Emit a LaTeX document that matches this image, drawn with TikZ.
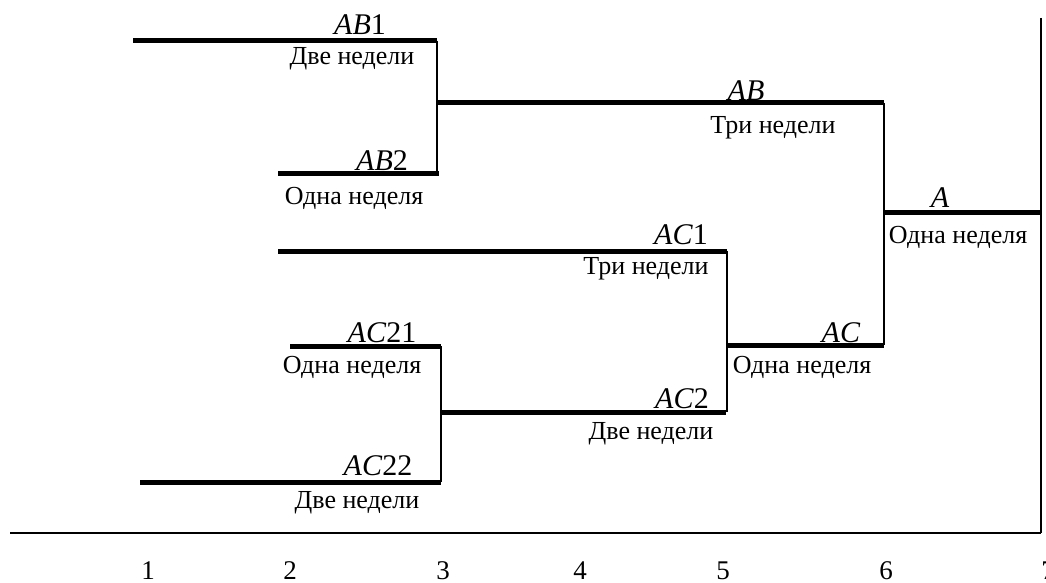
\documentclass[tikz,border=0pt]{standalone}
\usepackage{fontspec}
\setmainfont{Liberation Serif}
\begin{document}
\begin{tikzpicture}[x=1pt,y=-1pt,
  act/.style={line width=5pt},
  link/.style={line width=2.7pt},
  dur/.style={font=\fontsize{26}{28}\selectfont, inner sep=0pt, anchor=base},
  code/.style={font=\fontsize{30}{32}\selectfont, inner sep=0pt, anchor=base},
  tick/.style={font=\fontsize{27}{30}\selectfont, inner sep=0pt, anchor=base, text depth=0pt}]
\useasboundingbox (0,0) rectangle (1046,583);

% end points of the activity bars
\coordinate (ab1s) at (133,41);  \coordinate (ab1e) at (437,41);
\coordinate (ab2s) at (278,173); \coordinate (ab2e) at (439,173);
\coordinate (abs)  at (437,103); \coordinate (abe)  at (884,103);
\coordinate (as)   at (884,212); \coordinate (ae)   at (1041,212);
\coordinate (ac1s) at (278,251); \coordinate (ac1e) at (727,251);
\coordinate (acs)  at (726,345); \coordinate (ace)  at (884,345);
\coordinate (ac21s) at (290,346); \coordinate (ac21e) at (441,346);
\coordinate (ac2s) at (441,412); \coordinate (ac2e) at (726,412);
\coordinate (ac22s) at (140,482); \coordinate (ac22e) at (441,482);
\coordinate (axs) at (10,533);   \coordinate (axe) at (1041,533);
\coordinate (fin) at (1041,18);

% activity bars
\foreach \a in {ab1,ab2,ab,a,ac1,ac,ac21,ac2,ac22}
  \draw[act] (\a s) -- (\a e);

% joins between consecutive activities
\draw[link] (ab1e) -- (ab1e |- ab2e);
\draw[link] (abe) -- (abe |- ace);
\draw[link] (ac1e) -- (ac1e |- ac2e);
\draw[link] (ac21e) -- (ac21e |- ac22e);

% time axis and the finish line
\draw[link] (axs) -- (axe);
\draw[link] (fin) -- (axe);

% activity codes
\node[code] (lab1)  at (360,35)  {\textit{AB}1};
\node[code] (lab2)  at (382,170) {\textit{AB}2};
\node[code] (lab)   at (746,101) {\textit{AB}};
\node[code] (la)    at (940,207) {\textit{A}};
\node[code] (lac1)  at (681,244) {\textit{AC}1};
\node[code] (lac)   at (841,342) {\textit{AC}};
\node[code] (lac21) at (382,342) {\textit{AC}21};
\node[code] (lac2)  at (682,408) {\textit{AC}2};
\node[code] (lac22) at (378,475) {\textit{AC}22};

% durations
\node[dur] (dab1)  at (352,65)  {Две недели};
\node[dur] (dab2)  at (354,204) {Одна неделя};
\node[dur] (dab)   at (773,133) {Три недели};
\node[dur] (da)    at (958,243) {Одна неделя};
\node[dur] (dac1)  at (646,274) {Три недели};
\node[dur] (dac)   at (802,373) {Одна неделя};
\node[dur] (dac21) at (352,373) {Одна неделя};
\node[dur] (dac2)  at (651,439) {Две недели};
\node[dur] (dac22) at (357,508) {Две недели};

% week numbers
\foreach \n/\x in {1/148,2/290,3/443,4/580,5/723,6/886,7/1048}
  \node[tick] (t\n) at (\x,579) {\n};
\end{tikzpicture}
\end{document}
